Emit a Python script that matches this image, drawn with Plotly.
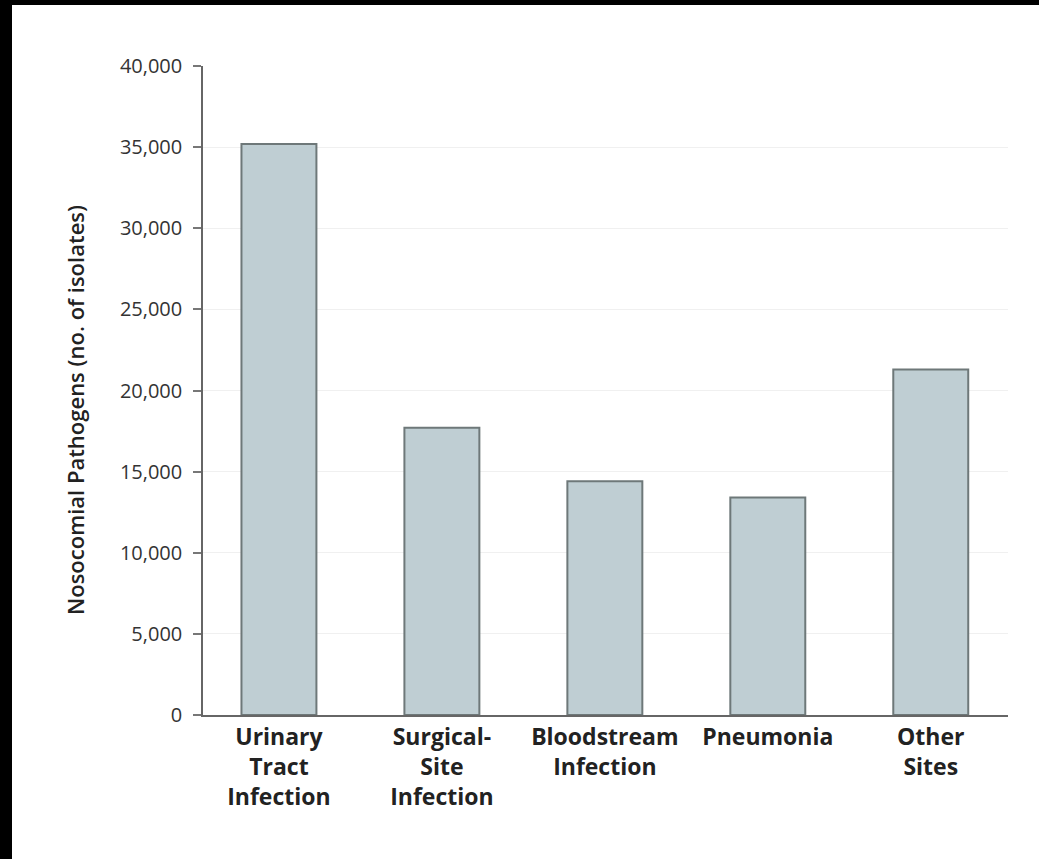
import plotly.graph_objects as go

categories = ["Urinary<br>Tract<br>Infection", "Surgical-<br>Site<br>Infection",
              "Bloodstream<br>Infection", "Pneumonia", "Other<br>Sites"]
isolates = [35200, 17700, 14400, 13400, 21300]
y_ticks = [0, 5000, 10000, 15000, 20000, 25000, 30000, 35000, 40000]
y_tick_text = ["0", "5,000", "10,000", "15,000", "20,000", "25,000", "30,000", "35,000", "40,000"]
y_title = "Nosocomial Pathogens (no. of isolates)"

W, H = 1039, 859
L, R, T, B = 203, 31, 66, 144
pw, ph = W - L - R, H - T - B

fig = go.Figure()
fig.add_trace(go.Bar(
    x=list(range(len(categories))), y=isolates, width=0.46,
    marker=dict(color="#bfced3", line=dict(color="#6e7879", width=2)),
    hoverinfo="skip",
))

fig.update_layout(
    width=W, height=H,
    margin=dict(l=L, r=R, t=T, b=B, pad=0),
    paper_bgcolor="black", plot_bgcolor="white",
    showlegend=False,
    font=dict(family="Open Sans", color="#222"),
    xaxis=dict(
        range=[-0.466, 4.474], tickmode="array",
        tickvals=list(range(len(categories))), ticktext=categories,
        showgrid=False, zeroline=False, showline=True, linecolor="#666", linewidth=1.5,
        ticks="", tickfont=dict(family="Open Sans", size=23, color="#222", weight="bold"),
        ticklabelstandoff=1,
    ),
    yaxis=dict(
        range=[0, 40000], tickmode="array", tickvals=y_ticks, ticktext=y_tick_text,
        showgrid=True, gridcolor="#f0f0f0", gridwidth=1, zeroline=False,
        showline=True, linecolor="#666", linewidth=1.5,
        ticks="outside", ticklen=8, tickcolor="#777", tickwidth=1.5,
        tickfont=dict(family="Open Sans", size=20, color="#333"),
        ticklabelstandoff=7,
    ),
    annotations=[dict(text=y_title, textangle=-90, showarrow=False,
                      xref="paper", yref="paper",
                      x=(75 - L) / pw, y=(T + ph - 410) / ph,
                      xanchor="center", yanchor="middle",
                      font=dict(family="Open Sans", size=22, color="#222", weight=600))],
    shapes=[dict(type="rect", xref="paper", yref="paper", layer="below",
                 x0=(12 - L) / pw, x1=(W - L) / pw,
                 y0=-B / ph, y1=(ph + T - 5) / ph,
                 fillcolor="white", line=dict(width=0))],
)

fig.write_html(
    "out.html",
    config={"displayModeBar": False},
    post_script="document.body.style.margin='0';"
                "document.body.style.overflow='hidden';"
                "document.documentElement.style.overflow='hidden';",
)
